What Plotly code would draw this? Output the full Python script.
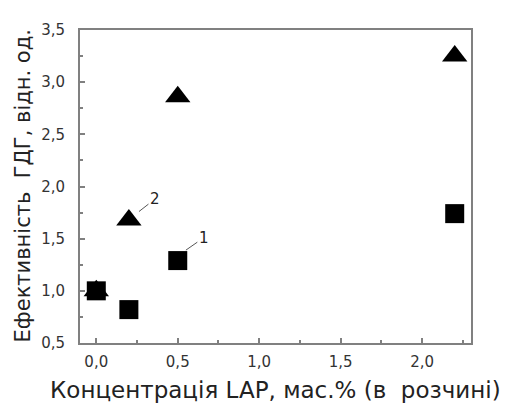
import plotly.graph_objects as go

conc = [0.0, 0.2, 0.5, 2.2]
series1 = [1.0, 0.82, 1.29, 1.74]   # squares, curve 1
series2 = [1.0, 1.68, 2.86, 3.25]   # triangles, curve 2

x_ticks = [0.0, 0.5, 1.0, 1.5, 2.0]
y_ticks = [0.5, 1.0, 1.5, 2.0, 2.5, 3.0, 3.5]

x_title = "Концентрація LAP, мас.% (в  розчині)"
y_title = "Ефективність  ГДГ, відн. од."

fig = go.Figure()
fig.add_trace(go.Scatter(x=conc, y=series1, mode="markers", name="1",
                         marker=dict(symbol="square", size=19, color="black")))
fig.add_trace(go.Scatter(x=conc, y=series2, mode="markers", name="2",
                         marker=dict(symbol="triangle-up", size=22, color="black")))

font_family = "DejaVu Sans, sans-serif"
axis_common = dict(showline=True, linecolor="#808080", linewidth=2, mirror=True,
                   ticks="inside", ticklen=5, tickcolor="#808080", tickwidth=1.5,
                   showgrid=False, zeroline=False, automargin=False,
                   tickfont=dict(family=font_family, size=15, color="#333"))

fig.update_layout(
    width=513, height=410,
    margin=dict(l=72, r=50, t=22, b=75),
    paper_bgcolor="white", plot_bgcolor="white",
    showlegend=False,
    separators=", ",
    font=dict(family=font_family, color="#222"),
    xaxis=dict(range=[-0.1, 2.3], tickvals=x_ticks, tickformat=".1f",
               ticklabelstandoff=4,
               minor=dict(dtick=0.25, ticks="inside", ticklen=3, tickcolor="#808080"),
               **axis_common),
    yaxis=dict(range=[0.5, 3.5], tickvals=y_ticks, tickformat=".1f",
               ticklabelstandoff=10,
               minor=dict(dtick=0.25, ticks="inside", ticklen=3, tickcolor="#808080"),
               **axis_common),
)

# axis titles
fig.add_annotation(text=x_title, xref="paper", yref="paper", x=0.5, y=0,
                   xanchor="center", yanchor="middle", yshift=-47, showarrow=False,
                   font=dict(family=font_family, size=23, color="#222"))
fig.add_annotation(text=y_title, xref="paper", yref="paper", x=0, y=0.5,
                   xanchor="center", yanchor="middle", xshift=-58, textangle=-90,
                   showarrow=False,
                   font=dict(family=font_family, size=21, color="#222"))

labels = [("2", 0.262, 1.76, 0.36, 1.88), ("1", 0.55, 1.39, 0.66, 1.51)]
for txt, hx, hy, tx, ty in labels:
    fig.add_annotation(x=hx, y=hy, ax=tx, ay=ty, axref="x", ayref="y",
                       text=txt, showarrow=True, arrowhead=0, arrowwidth=1,
                       arrowcolor="#555", standoff=0,
                       font=dict(family=font_family, size=15, color="#222"))

fig.write_html("out.html")
